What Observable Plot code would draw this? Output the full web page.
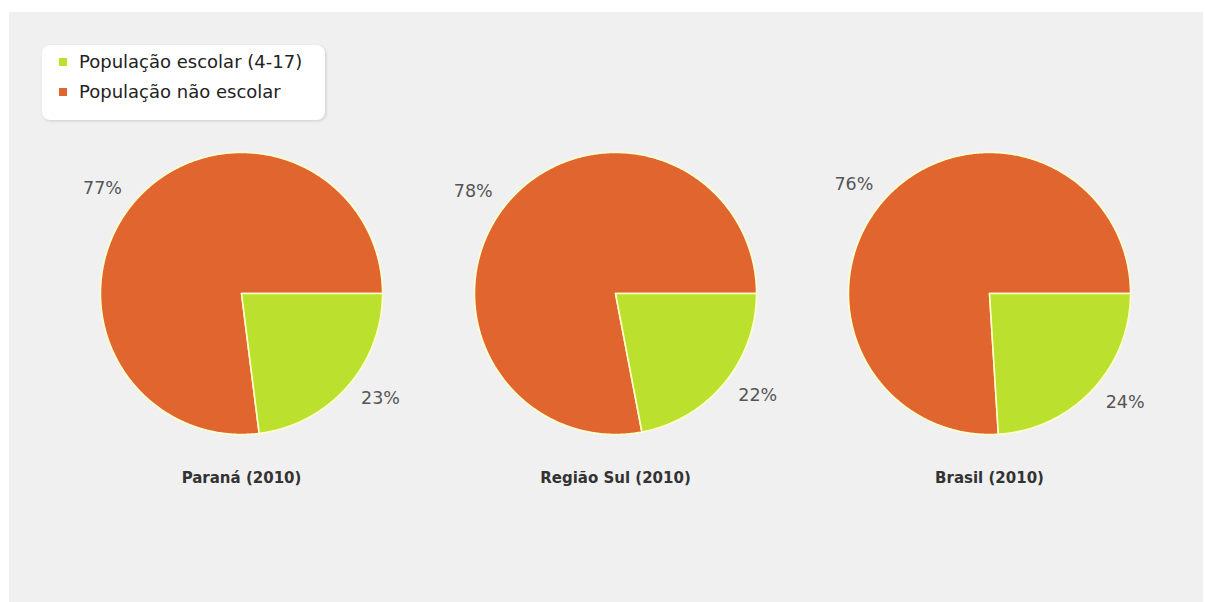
<!DOCTYPE html>
<html>
<head>
<meta charset="utf-8">
<script src="https://cdn.jsdelivr.net/npm/d3@7"></script>
<script src="https://cdn.jsdelivr.net/npm/@observablehq/plot@0.6"></script>
<style>
  html, body { margin: 0; padding: 0; background: #ffffff; }
  #wrap { position: absolute; left: 9px; top: 12px; width: 1194px; height: 590px; background: #f0f0f0; font-family: "DejaVu Sans", Verdana, sans-serif; }
  #legend { margin: 33px 0 5px 33px; width: 283px; height: 75px; box-sizing: border-box; padding: 2px 0 0 17px; background: #ffffff; border-radius: 8px; box-shadow: 1px 1px 3px rgba(0,0,0,0.15); }
  .item { height: 30px; line-height: 30px; font-size: 18px; color: #222; white-space: nowrap; }
  .sw { display: inline-block; width: 8px; height: 8px; margin-right: 12px; vertical-align: middle; position: relative; top: -1px; }
  #chart svg { display: block; }
</style>
</head>
<body>
<div id="wrap">
  <div id="legend"></div>
  <div id="chart"></div>
</div>
<script>
// ---- data ----
const regions = ["Paraná", "Região Sul", "Brasil"];
const titles = ["Paraná (2010)", "Região Sul (2010)", "Brasil (2010)"];
const slices = ["População escolar (4-17)", "População não escolar"];
const schoolPct = [23, 22, 24];
const nonSchoolPct = [77, 78, 76];
const colors = ["#BCE02E", "#E0652E"];

// ---- legend ----
const legend = document.getElementById("legend");
slices.forEach((s, i) => {
  const d = document.createElement("div");
  d.className = "item";
  d.innerHTML = `<span class="sw" style="background:${colors[i]}"></span>${s}`;
  legend.appendChild(d);
});

// ---- build slice geometry from values ----
const polys = [];   // {region, slice, x, y}
const labels = [];  // {region, slice, x, y, text, side}
regions.forEach((r, ri) => {
  const vals = [schoolPct[ri], nonSchoolPct[ri]];
  const total = d3.sum(vals);
  let acc = 0;
  vals.forEach((v, si) => {
    const a0 = acc / total * 2 * Math.PI;
    acc += v;
    const a1 = acc / total * 2 * Math.PI;
    const n = Math.max(2, Math.ceil((a1 - a0) / (Math.PI / 360)));
    polys.push({region: r, slice: si, x: 0, y: 0});
    for (let k = 0; k <= n; k++) {
      const t = a0 + (a1 - a0) * k / n;
      polys.push({region: r, slice: si, x: Math.cos(t), y: -Math.sin(t)});
    }
    polys.push({region: r, slice: si, x: 0, y: 0});
    const m = (a0 + a1) / 2;
    labels.push({region: r, slice: si, x: 1.13 * Math.cos(m), y: -1.13 * Math.sin(m),
                 text: `${v}%`, side: Math.cos(m) >= 0 ? "right" : "left"});
  });
});
const titleRows = regions.map((r, i) => ({region: r, text: titles[i]}));

const sliceMark = (si) => Plot.line(polys.filter(d => d.slice === si), {
  fx: "region", x: "x", y: "y", z: "region",
  fill: colors[si], stroke: "#ffffcc", strokeWidth: 1.6, strokeLinejoin: "round"
});

const chart = Plot.plot({
  width: 1194, height: 465,
  marginLeft: 45, marginRight: 27, marginTop: 0, marginBottom: 0,
  style: {background: "transparent", fontFamily: "DejaVu Sans, Verdana, sans-serif"},
  fx: {domain: regions, padding: 0, axis: null},
  x: {domain: [-1.326, 1.326], axis: null},
  y: {domain: [-2.106, 1.191], axis: null},
  marks: [
    sliceMark(1),
    sliceMark(0),
    Plot.text(labels.filter(d => d.side === "right"), {fx: "region", x: "x", y: "y", text: "text",
      textAnchor: "start", fontSize: 17.5, fill: "#555"}),
    Plot.text(labels.filter(d => d.side === "left"), {fx: "region", x: "x", y: "y", text: "text",
      textAnchor: "end", fontSize: 17.5, fill: "#555"}),
    Plot.text(titleRows, {fx: "region", text: "text", frameAnchor: "bottom", dy: -108,
      fontSize: 15, fontWeight: "bold", fill: "#333"})
  ]
});
document.getElementById("chart").appendChild(chart);
</script>
</body>
</html>
